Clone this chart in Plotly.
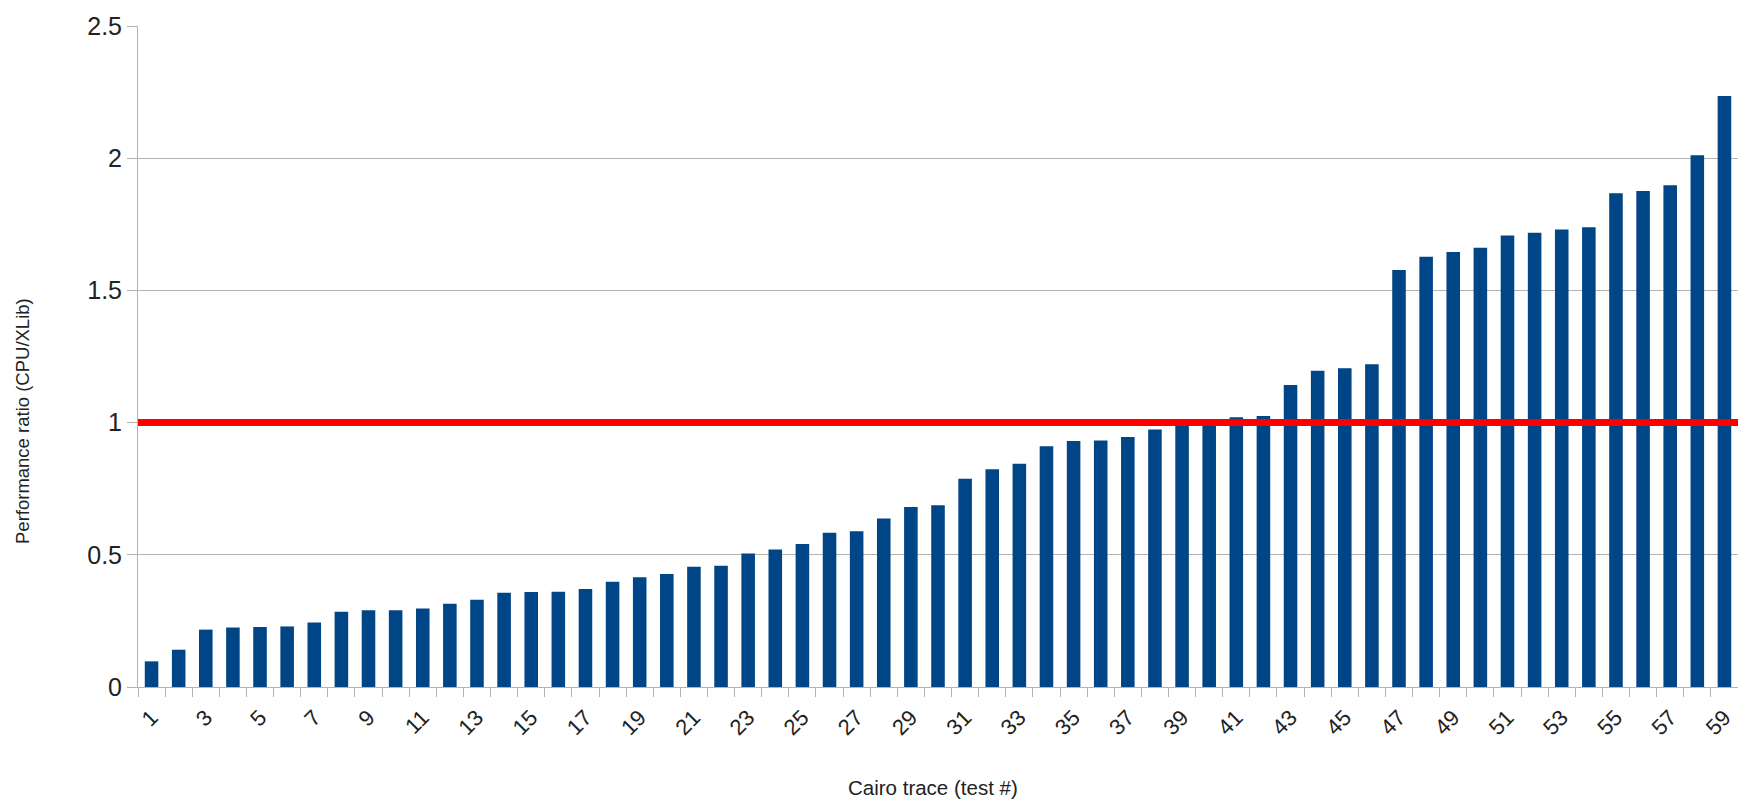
import plotly.graph_objects as go

# ---- data ----
tests = list(range(1, 60))
ratios = [
    0.097, 0.141, 0.217, 0.225, 0.227, 0.229, 0.244, 0.285, 0.290, 0.290,
    0.297, 0.315, 0.330, 0.356, 0.359, 0.360, 0.371, 0.398, 0.415, 0.427,
    0.455, 0.459, 0.505, 0.520, 0.541, 0.583, 0.589, 0.637, 0.681, 0.687,
    0.788, 0.824, 0.844, 0.911, 0.930, 0.932, 0.946, 0.974, 0.990, 1.000,
    1.020, 1.025, 1.142, 1.196, 1.206, 1.221, 1.577, 1.627, 1.645, 1.661,
    1.708, 1.718, 1.730, 1.739, 1.867, 1.876, 1.898, 2.011, 2.235,
]
label_tests = tests[::2]
label_text = [str(t) for t in label_tests]
baseline = 1.0
x_title = "Cairo trace (test #)"
y_title = "Performance ratio (CPU/XLib)"

GRID = "#b3b3b3"
TXT = "#222222"
FONT = "Liberation Sans, Arial, sans-serif"

W, H = 1738, 801
ML, MR, MT, MB = 138, 0, 26, 114
PW, PH = W - ML - MR, H - MT - MB

fig = go.Figure()
fig.add_trace(go.Bar(
    x=tests, y=ratios,
    marker=dict(color="#004586", line=dict(width=0)),
    showlegend=False,
))
fig.add_hline(y=baseline, line=dict(color="#ff0000", width=7), layer="above")

boundaries = [t - 0.5 for t in tests] + [tests[-1] + 0.5]

fig.update_layout(
    width=W, height=H,
    margin=dict(l=ML, r=MR, t=MT, b=MB, pad=0),
    paper_bgcolor="white", plot_bgcolor="white",
    font=dict(family=FONT, color=TXT),
    bargap=0.5,
    xaxis=dict(
        range=[tests[0] - 0.5, tests[-1] + 0.5],
        tickmode="array", tickvals=label_tests, ticktext=label_text,
        tickangle=-45, tickfont=dict(size=22, color=TXT, family=FONT),
        ticks="outside", ticklen=8, tickcolor="rgba(0,0,0,0)",
        showgrid=False, zeroline=False,
        showline=True, linecolor=GRID, linewidth=1,
        minor=dict(tickmode="array", tickvals=boundaries, ticks="outside",
                   ticklen=9, tickcolor=GRID, tickwidth=1, showgrid=False),
    ),
    yaxis=dict(
        range=[0, 2.5], tick0=0, dtick=0.5,
        tickfont=dict(size=25, color=TXT, family=FONT),
        ticks="outside", ticklen=10, tickcolor=GRID,
        showgrid=True, gridcolor=GRID, gridwidth=1,
        zeroline=False, showline=True, linecolor=GRID, linewidth=1,
    ),
)

fig.add_annotation(
    text=y_title, xref="paper", yref="paper",
    x=(22 - ML) / PW, y=(H - MB - 421) / PH,
    xanchor="center", yanchor="middle", textangle=-90,
    showarrow=False, font=dict(size=18.5, color=TXT, family=FONT),
)
fig.add_annotation(
    text=x_title, xref="paper", yref="paper",
    x=(933 - ML) / PW, y=-(787 - (H - MB)) / PH,
    xanchor="center", yanchor="middle",
    showarrow=False, font=dict(size=20.5, color=TXT, family=FONT),
)

fig.write_html(
    "out.html",
    config={"displayModeBar": False},
    post_script="document.body.style.margin='0';document.body.style.overflow='hidden';",
)
